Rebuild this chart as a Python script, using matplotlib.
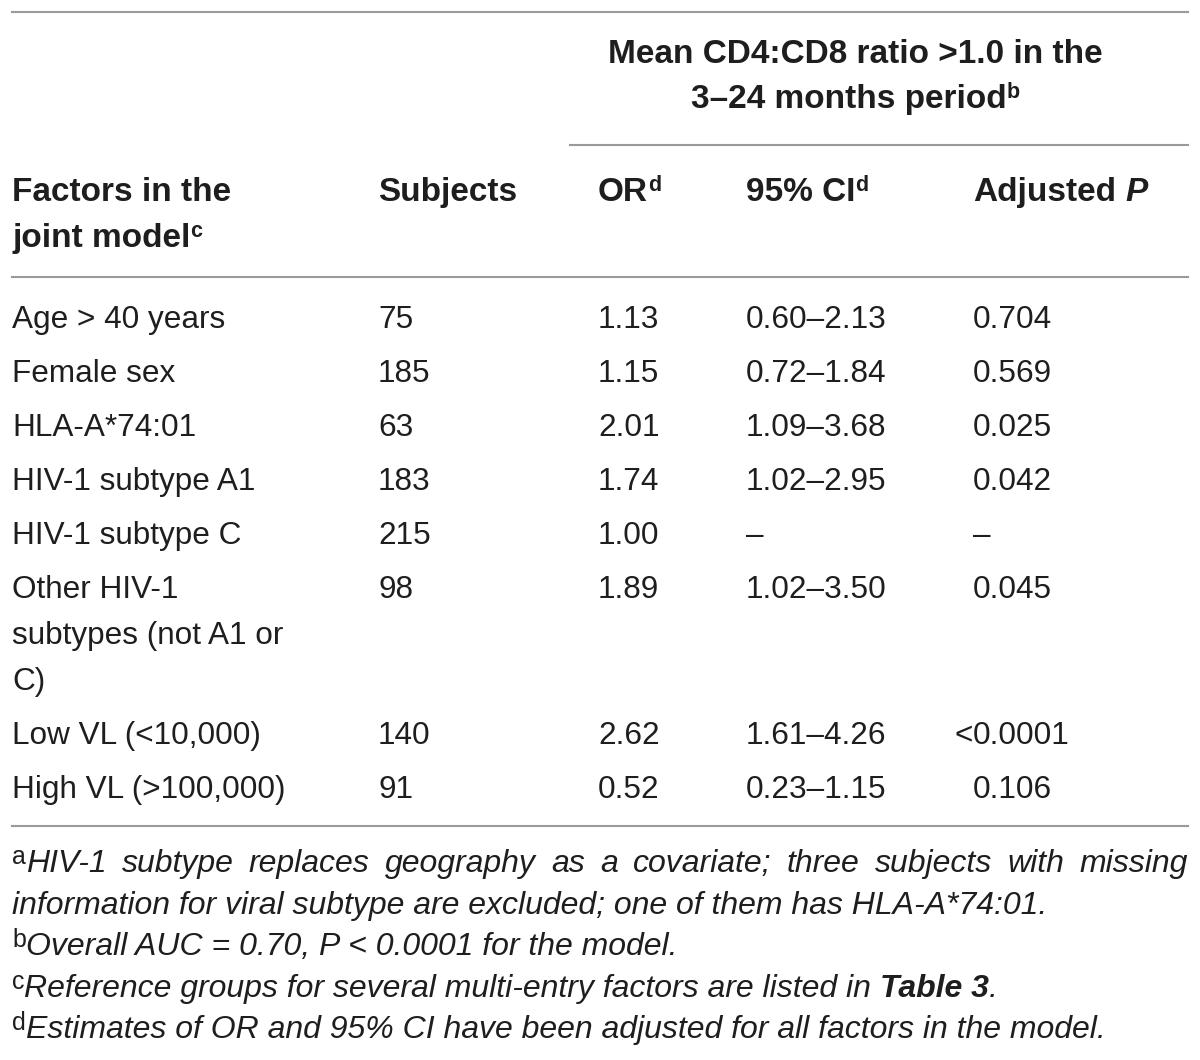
import matplotlib
matplotlib.use('Agg')
from matplotlib import pyplot as plt

plt.rcParams['font.family'] = ['Liberation Sans', 'DejaVu Sans']

# Table content
factors = ['Age > 40 years', 'Female sex', 'HLA-A*74:01', 'HIV-1 subtype A1',
           'HIV-1 subtype C', 'Other HIV-1\nsubtypes (not A1 or\nC)',
           'Low VL (<10,000)', 'High VL (>100,000)']
subjects = ['75', '185', '63', '183', '215', '98', '140', '91']
odds_ratio = ['1.13', '1.15', '2.01', '1.74', '1.00', '1.89', '2.62', '0.52']
conf_int = ['0.60–2.13', '0.72–1.84', '1.09–3.68', '1.02–2.95', '–',
            '1.02–3.50', '1.61–4.26', '0.23–1.15']
adj_p = ['0.704', '0.569', '0.025', '0.042', '–', '0.045', '<0.0001', '0.106']

span_header = ['Mean CD4:CD8 ratio >1.0 in the', '3–24 months period']
footnotes = [
    ('a', 'HIV-1 subtype replaces geography as a covariate; three subjects with missing'),
    ('', 'information for viral subtype are excluded; one of them has HLA-A*74:01.'),
    ('b', 'Overall AUC = 0.70, P < 0.0001 for the model.'),
    ('c', 'Reference groups for several multi-entry factors are listed in '),
    ('d', 'Estimates of OR and 95% CI have been adjusted for all factors in the model.'),
]

ink = '#1e1e1e'
rule = '#9a9a9a'
fs = 22.7
fs_bold = 24
fs_sup = 15.5
fs_note = 23
fs_note_sup = 18

fig = plt.figure(figsize=(12, 10.6), dpi=100)
ax = fig.add_axes([0, 0, 1, 1])
ax.set_xlim(0, 1200)
ax.set_ylim(1060, 0)
ax.axis('off')
fig.canvas.draw()
renderer = fig.canvas.get_renderer()


def width(s, **kw):
    t = ax.text(0, 0, s, **kw)
    w = t.get_window_extent(renderer).width
    t.remove()
    return w


def runs(x, y, parts, ha='left'):
    # parts: (text, size, weight, style, dy)
    ws = []
    for s, size, weight, style, dy in parts:
        ws.append(width(s, fontsize=size, fontweight=weight, fontstyle=style))
    if ha == 'center':
        x = x - sum(ws) / 2
    for (s, size, weight, style, dy), w in zip(parts, ws):
        ax.text(x, y - dy, s, fontsize=size, fontweight=weight, fontstyle=style,
                color=ink, va='baseline', ha='left')
        x += w
    return x


# rules
ax.plot([12, 1188], [12, 12], color=rule, lw=1.5)
ax.plot([570, 1188], [145, 145], color=rule, lw=1.5)
ax.plot([12, 1188], [277, 277], color=rule, lw=1.5)
ax.plot([12, 1188], [826, 826], color=rule, lw=1.5)

# spanning header
runs(855, 63, [(span_header[0], fs_bold, 'bold', 'normal', 0)], ha='center')
runs(855, 108, [(span_header[1], fs_bold, 'bold', 'normal', 0),
                ('b', fs_sup, 'bold', 'normal', 10)], ha='center')

# column headers
runs(12, 201, [('Factors in the', fs_bold, 'bold', 'normal', 0)])
runs(12, 247, [('joint model', fs_bold, 'bold', 'normal', 0),
               ('c', fs_sup, 'bold', 'normal', 10)])
runs(378, 201, [('Subjects', fs_bold, 'bold', 'normal', 0)])
runs(598, 201, [('OR', fs_bold, 'bold', 'normal', 0), ('d', fs_sup, 'bold', 'normal', 10)])
runs(746, 201, [('95% CI', fs_bold, 'bold', 'normal', 0), ('d', fs_sup, 'bold', 'normal', 10)])
sp = width('x x', fontsize=fs_bold, fontweight='bold') - width('xx', fontsize=fs_bold, fontweight='bold')
xe = runs(973, 201, [('Adjusted', fs_bold, 'bold', 'normal', 0)])
runs(xe + sp, 201, [('P', fs_bold, 'bold', 'italic', 0)])

# body rows
y = 328
for f, s, o, c, p in zip(factors, subjects, odds_ratio, conf_int, adj_p):
    lines = f.split('\n')
    for k, line in enumerate(lines):
        ax.text(12, y + 46 * k, line, fontsize=fs, color=ink, va='baseline')
    ax.text(378, y, s, fontsize=fs, color=ink, va='baseline')
    ax.text(598, y, o, fontsize=fs, color=ink, va='baseline')
    ax.text(746, y, c, fontsize=fs, color=ink, va='baseline')
    if p.startswith('<'):
        ax.text(973, y, '<', fontsize=fs, color=ink, va='baseline', ha='right')
        ax.text(973, y, p[1:], fontsize=fs, color=ink, va='baseline')
    else:
        ax.text(973, y, p, fontsize=fs, color=ink, va='baseline')
    y += 54 + 46 * (len(lines) - 1)

# footnotes
note_y = [872, 914, 955, 997, 1038]
nsp = width('x x', fontsize=fs_note, fontstyle='italic') - width('xx', fontsize=fs_note, fontstyle='italic')
for (mark, txt), ny in zip(footnotes, note_y):
    x0 = 12
    if mark:
        x0 = runs(12, ny, [(mark, fs_note_sup, 'normal', 'normal', 8)])
    if mark == 'a':
        # justified first line
        words = txt.split(' ')
        ws = [width(w, fontsize=fs_note, fontstyle='italic') for w in words]
        gap = (1188 - x0 - sum(ws)) / (len(words) - 1)
        x = x0
        for w, wd in zip(words, ws):
            ax.text(x, ny, w, fontsize=fs_note, fontstyle='italic', color=ink, va='baseline')
            x += wd + gap
    elif mark == 'c':
        xe = runs(x0, ny, [(txt.rstrip(), fs_note, 'normal', 'italic', 0)])
        xe = runs(xe + nsp, ny, [('Table 3', fs_note, 'bold', 'italic', 0)])
        runs(xe, ny, [('.', fs_note, 'normal', 'italic', 0)])
    else:
        ax.text(x0, ny, txt, fontsize=fs_note, fontstyle='italic', color=ink, va='baseline')

fig.savefig('out.png', dpi=100)
